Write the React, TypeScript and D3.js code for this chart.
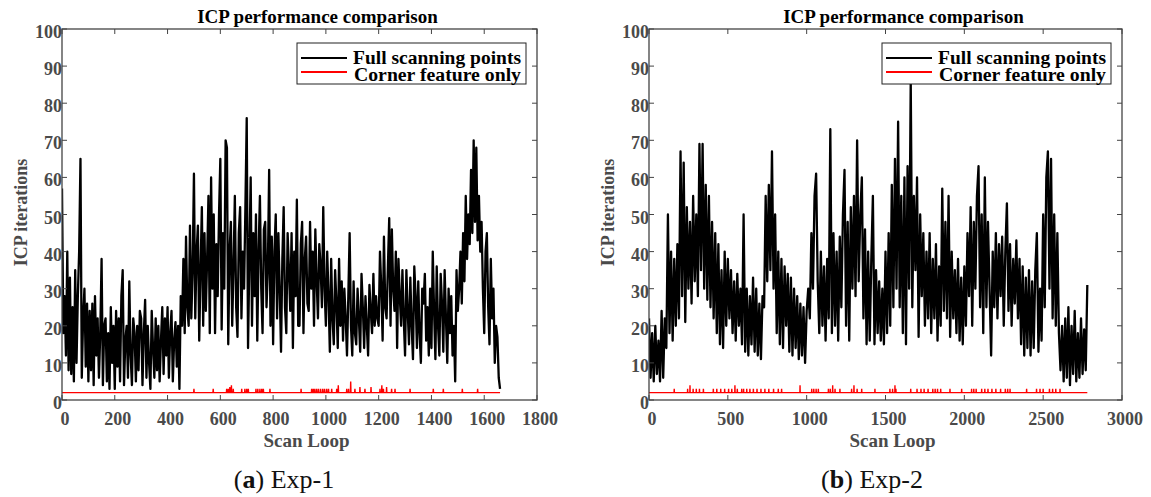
import React from "react";
import * as d3 from "d3";

const STEP1 = 5;
const STEP2 = 10;

const exp1Full = [
  57, 18, 28, 12, 40, 8, 33, 7, 25, 5, 35, 10, 28, 40, 65, 6, 22, 30, 9, 26,
  5, 24, 8, 26, 4, 28, 12, 22, 6, 18, 38, 4, 20, 22, 5, 18, 3, 25, 10, 20,
  3, 24, 9, 22, 5, 28, 35, 4, 16, 20, 6, 32, 12, 4, 22, 18, 5, 20, 8, 24,
  22, 4, 18, 27, 6, 20, 10, 3, 24, 14, 6, 22, 8, 20, 5, 16, 25, 7, 22, 12,
  25, 6, 18, 24, 5, 16, 21, 9, 20, 3, 28, 20, 38, 18, 44, 25, 20, 47, 22, 35,
  61, 22, 40, 47, 16, 35, 52, 20, 45, 24, 38, 55, 18, 60, 30, 50, 18, 42, 28, 50,
  65, 19, 45, 30, 70, 68, 15, 40, 48, 20, 36, 55, 25, 17, 45, 52, 22, 40, 30, 52,
  76, 14, 38, 60, 20, 45, 28, 50, 16, 40, 55, 30, 18, 46, 48, 25, 35, 62, 20, 44,
  15, 40, 50, 22, 45, 30, 13, 38, 52, 25, 18, 45, 35, 24, 45, 14, 40, 28, 54, 20,
  20, 42, 48, 18, 38, 44, 26, 24, 48, 30, 40, 20, 46, 32, 22, 42, 36, 25, 52, 30,
  20, 40, 28, 13, 38, 22, 15, 35, 26, 14, 38, 20, 32, 16, 30, 22, 12, 28, 45, 20,
  12, 32, 18, 15, 30, 22, 13, 34, 25, 14, 28, 20, 12, 31, 24, 18, 34, 20, 28, 22,
  20, 40, 30, 16, 44, 25, 22, 36, 49, 20, 46, 30, 24, 40, 14, 38, 28, 20, 35, 22,
  12, 35, 24, 15, 33, 20, 11, 36, 28, 14, 32, 18, 10, 30, 26, 34, 16, 25, 12, 30,
  14, 40, 24, 11, 36, 20, 12, 34, 26, 13, 35, 22, 10, 30, 18, 28, 12, 20, 5, 35,
  24, 30, 40, 26, 45, 32, 55, 38, 50, 42, 62, 45, 70, 48, 68, 43, 55, 40, 48, 30,
  18, 40, 45, 25, 15, 38, 22, 30, 10, 20, 17, 6, 3,
];

const exp2Full = [
  22, 6, 18, 5, 20, 7, 16, 5, 24, 6,
  22, 14, 50, 18, 40, 16, 38, 20, 42, 22,
  67, 28, 64, 21, 52, 30, 48, 26, 55, 32,
  50, 28, 69, 35, 69, 30, 58, 27, 55, 25,
  48, 22, 45, 18, 42, 15, 35, 14, 40, 20,
  38, 22, 35, 18, 32, 16, 34, 20, 30, 15,
  50, 13, 30, 12, 28, 15, 33, 13, 30, 12,
  26, 11, 28, 25, 55, 32, 58, 35, 67, 30,
  50, 18, 40, 15, 38, 14, 36, 20, 34, 13,
  33, 12, 30, 14, 28, 11, 26, 12, 25, 10,
  24, 30, 22, 45, 30, 55, 61, 32, 18, 40,
  20, 36, 16, 38, 22, 73, 18, 45, 20, 40,
  16, 44, 25, 50, 62, 20, 48, 16, 52, 30,
  55, 28, 70, 32, 50, 60, 22, 46, 15, 40,
  16, 38, 55, 15, 35, 18, 32, 16, 30, 15,
  40, 18, 45, 20, 58, 25, 65, 30, 75, 25,
  55, 18, 60, 15, 63, 30, 86, 25, 55, 35,
  60, 17, 50, 28, 45, 20, 40, 22, 45, 18,
  38, 22, 42, 16, 36, 20, 57, 24, 48, 22,
  55, 17, 40, 22, 35, 18, 38, 16, 33, 15,
  36, 20, 45, 28, 52, 20, 48, 30, 55, 63,
  25, 50, 18, 60, 25, 48, 30, 12, 40, 25,
  45, 22, 42, 28, 44, 20, 40, 53, 24, 42,
  20, 38, 26, 43, 22, 38, 15, 36, 12, 33,
  14, 35, 12, 32, 14, 35, 45, 13, 30, 16,
  50, 25, 60, 67, 30, 65, 22, 50, 20, 45,
  18, 8, 20, 5, 22, 6, 25, 4, 20, 7,
  24, 5, 18, 6, 22, 7, 19, 8, 31,
];

// corner-feature run: flat at CORNER_BASE, with short spikes [loop, iterations]
const CORNER_BASE = 2;
const exp1Corner = [
  [500, 3], [573, 3], [624, 3], [630, 3], [636, 3.5], [642, 4], [649, 3], [681, 3],
  [693, 3], [700, 3], [706, 3], [735, 3], [742, 3], [750, 3], [757, 3], [763, 3],
  [788, 3], [906, 3], [946, 3], [952, 3], [958, 3], [965, 3], [972, 3], [980, 3],
  [988, 3], [995, 3], [1003, 3], [1010, 3], [1022, 3], [1041, 3], [1047, 4], [1079, 3],
  [1086, 3], [1094, 5], [1110, 3], [1129, 3.5], [1148, 3], [1171, 3.5], [1205, 3],
  [1212, 4], [1218, 3], [1230, 3.5], [1249, 3], [1262, 3], [1319, 3], [1407, 3],
  [1445, 3], [1517, 3], [1575, 3],
];
const exp2Corner = [
  [160, 3], [245, 3], [260, 4], [280, 3], [300, 3], [320, 3], [345, 3], [408, 3],
  [430, 3], [455, 3], [480, 3], [505, 3], [525, 3], [545, 4], [560, 3], [588, 3],
  [600, 3], [620, 3], [640, 3], [662, 3], [685, 3], [710, 3], [735, 3], [760, 3],
  [790, 3], [820, 3], [841, 3], [958, 4], [1032, 3], [1045, 3], [1060, 3], [1074, 3],
  [1138, 3], [1150, 3], [1165, 4], [1180, 3], [1211, 3], [1285, 3], [1300, 4],
  [1320, 3], [1349, 3], [1433, 3], [1528, 3], [1545, 3], [1560, 4], [1566, 3],
  [1660, 3], [1700, 3], [1725, 3], [1745, 3], [1770, 3], [1800, 3], [1815, 3],
  [1830, 3], [1850, 3], [1909, 3], [1983, 3], [2046, 3], [2060, 3], [2075, 3],
  [2110, 3], [2130, 3], [2150, 3], [2175, 3], [2200, 3], [2230, 3], [2260, 3],
  [2275, 3], [2290, 3], [2395, 3], [2458, 3], [2480, 3], [2500, 3], [2540, 3],
  [2560, 3], [2580, 3], [2607, 3],
];

const exp1Ticks = [0, 200, 400, 600, 800, 1000, 1200, 1400, 1600, 1800];
const exp2Ticks = [0, 500, 1000, 1500, 2000, 2500, 3000];
const yTicks = [0, 10, 20, 30, 40, 50, 60, 70, 80, 90, 100];

const legendNames = ["Full scanning points", "Corner feature only"];
const FONT = "'Liberation Serif', 'Times New Roman', serif";

function Panel(props) {
  const { left, right, full, step, corner, xMax, xTicks, tag, name, capX, lineW } = props;
  const top = 29;
  const bottom = 400;
  const x = d3.scaleLinear().domain([0, xMax]).range([left, right]);
  const y = d3.scaleLinear().domain([0, 100]).range([bottom, top]);

  const fullLine = d3
    .line<number>()
    .x((d, i) => x(i * step))
    .y((d) => y(d));

  const endLoop = (full.length - 1) * step;
  const pts: [number, number][] = [[0, CORNER_BASE]];
  corner.forEach(([l, v]) => {
    pts.push([l - 1, CORNER_BASE], [l, v], [l + 1, CORNER_BASE]);
  });
  pts.push([endLoop, CORNER_BASE]);
  const cornerLine = d3
    .line<[number, number]>()
    .x((d) => x(d[0]))
    .y((d) => y(d[1]));

  const axisCol = "#444";
  const labCol = "#4a4a4a";
  const tk = 5;
  const cx = (left + right) / 2;

  const legRight = right - 11;
  const legLeft = legRight - 229;

  return (
    <g>
      <defs>
        <clipPath id={"clip" + tag}>
          <rect x={left} y={top} width={right - left} height={bottom - top} />
        </clipPath>
      </defs>
      <g clipPath={`url(#clip${tag})`}>
        <path d={fullLine(full) || ""} fill="none" stroke="#000" strokeWidth={lineW} strokeLinejoin="round" />
        <path d={cornerLine(pts) || ""} fill="none" stroke="#ff0000" strokeWidth={1.4} />
      </g>

      {/* frame */}
      <rect x={left} y={top} width={right - left} height={bottom - top} fill="none" stroke={axisCol} strokeWidth={1.3} />

      {xTicks.map((t) => (
        <g key={"x" + t}>
          <line x1={x(t)} x2={x(t)} y1={bottom} y2={bottom - tk} stroke={axisCol} strokeWidth={1} />
          <line x1={x(t)} x2={x(t)} y1={top} y2={top + tk} stroke={axisCol} strokeWidth={1} />
          <text x={x(t) + 3} y={425} textAnchor="middle" fontFamily={FONT} fontWeight="bold" fontSize={18} fill={labCol}>
            {t}
          </text>
        </g>
      ))}
      {yTicks.map((t) => (
        <g key={"y" + t}>
          <line x1={left} x2={left + tk} y1={y(t)} y2={y(t)} stroke={axisCol} strokeWidth={1} />
          <line x1={right} x2={right - tk} y1={y(t)} y2={y(t)} stroke={axisCol} strokeWidth={1} />
          <text x={left} y={y(t) + 9} textAnchor="end" fontFamily={FONT} fontWeight="bold" fontSize={18} fill={labCol}>
            {t}
          </text>
        </g>
      ))}

      <text x={cx + 18} y={23} textAnchor="middle" fontFamily={FONT} fontWeight="bold" fontSize={19} fill="#000">
        ICP performance comparison
      </text>
      <text x={cx + 7} y={447} textAnchor="middle" fontFamily={FONT} fontWeight="bold" fontSize={19} fill={labCol}>
        Scan Loop
      </text>
      <text
        transform={`translate(${left - 35},${(top + bottom) / 2 - 2}) rotate(-90)`}
        textAnchor="middle"
        fontFamily={FONT}
        fontWeight="bold"
        fontSize={18}
        fill={labCol}
      >
        ICP iterations
      </text>

      {/* legend */}
      <rect x={legLeft} y={43} width={229} height={41} fill="#fff" stroke="#222" strokeWidth={1} />
      <line x1={legLeft + 4} x2={legLeft + 50} y1={58} y2={58} stroke="#000" strokeWidth={2} />
      <line x1={legLeft + 4} x2={legLeft + 50} y1={72} y2={72} stroke="#ff0000" strokeWidth={2} />
      <text x={legLeft + 56} y={64} textLength={168} lengthAdjust="spacingAndGlyphs" fontFamily={FONT} fontWeight="bold" fontSize={18} fill="#000">
        {legendNames[0]}
      </text>
      <text x={legLeft + 57} y={81} textLength={167} lengthAdjust="spacingAndGlyphs" fontFamily={FONT} fontWeight="bold" fontSize={18} fill="#000">
        {legendNames[1]}
      </text>

      {/* sub caption */}
      <text x={capX} y={488} textAnchor="middle" fontFamily={FONT} fontSize={26} fill="#111">
        (<tspan fontWeight="bold">{tag}</tspan>) {name}
      </text>
    </g>
  );
}

export default function App() {
  return (
    <svg
      width={1151}
      height={497}
      style={{ position: "absolute", left: 0, top: 0, background: "#fff" }}
    >
      <Panel left={62} right={537} full={exp1Full} step={STEP1} corner={exp1Corner} xMax={1800} xTicks={exp1Ticks} tag="a" name="Exp-1" capX={284} lineW={2.3} />
      <Panel left={649} right={1122} full={exp2Full} step={STEP2} corner={exp2Corner} xMax={3000} xTicks={exp2Ticks} tag="b" name="Exp-2" capX={872} lineW={2.3} />
    </svg>
  );
}
